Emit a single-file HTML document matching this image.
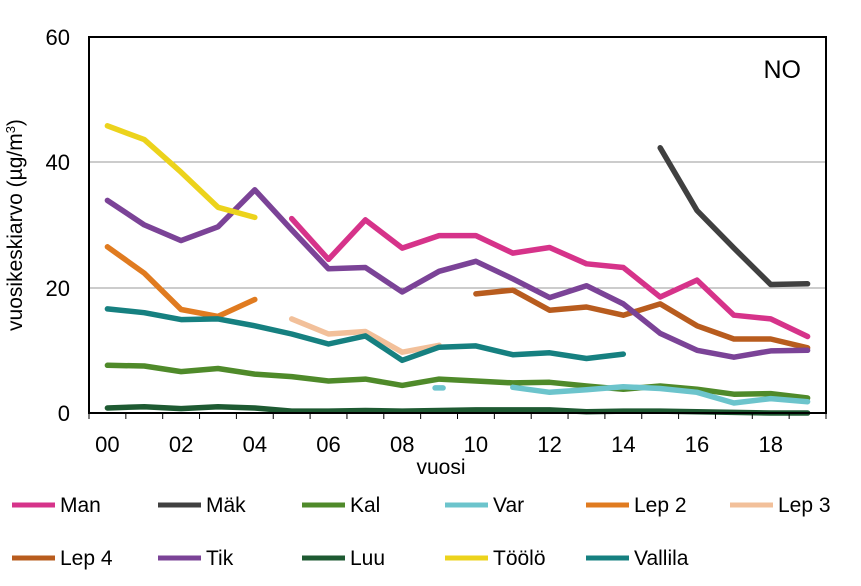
<!DOCTYPE html><html><head><style>body{margin:0;background:#fff}svg{font-family:"Liberation Sans",sans-serif}</style></head><body>
<svg width="861" height="581" xmlns="http://www.w3.org/2000/svg">
<rect width="861" height="581" fill="#fff"/>
<line x1="89" y1="162" x2="826" y2="162" stroke="#999" stroke-width="1"/>
<line x1="89" y1="288" x2="826" y2="288" stroke="#999" stroke-width="1"/>
<g id="series" fill="none" stroke-width="5.5" stroke-linejoin="round" stroke-linecap="round"></g>
<rect x="89" y="37" width="737" height="376" fill="none" stroke="#000" stroke-width="2"/>
<g id="ticks" stroke="#000" stroke-width="1"></g>
<g font-size="22" text-anchor="end"><text x="70" y="45">60</text><text x="70" y="170">40</text><text x="70" y="296">20</text><text x="70" y="421">0</text></g>
<g id="xl" font-size="22" text-anchor="middle"></g>
<text x="441" y="474" font-size="21" text-anchor="middle">vuosi</text>
<text transform="translate(22,225) rotate(-90)" font-size="21" text-anchor="middle">vuosikeskiarvo (µg/m<tspan dy="-7" font-size="13">3</tspan><tspan dy="7">)</tspan></text>
<text x="801" y="78" font-size="25" text-anchor="end">NO</text>
<g id="leg" font-size="21"></g>
</svg>
<script>
const X=i=>89+36.85*(i+0.5),Y=v=>413-v*6.27;
const S=[
["#d6338a",5,[31,24.5,30.8,26.3,28.3,28.3,25.5,26.4,23.8,23.2,18.5,21.2,15.6,15,12.2]],
["#404040",15,[42.3,32.3,26.3,20.5,20.6]],
["#4f8a2a",0,[7.6,7.5,6.6,7.1,6.2,5.8,5.1,5.4,4.4,5.4,5.1,4.8,4.9,4.3,3.8,4.3,3.8,3,3.1,2.4]],
["#6cc4cc",11,[4.1,3.3,3.7,4.2,3.9,3.3,1.6,2.3,1.8]],
["#e07b20",0,[26.5,22.3,16.5,15.4,18.1]],
["#f2c09a",5,[15,12.6,13,9.7,10.8]],
["#b85c1e",10,[19,19.6,16.4,16.9,15.6,17.4,13.9,11.8,11.8,10.4]],
["#7b4397",0,[33.9,30,27.5,29.7,35.6,29.2,23,23.2,19.3,22.6,24.2,21.4,18.4,20.3,17.4,12.7,10,8.9,9.9,10]],
["#1e5a32",0,[0.8,1,0.7,1,0.8,0.3,0.3,0.4,0.3,0.4,0.5,0.5,0.5,0.2,0.3,0.3,0.2,0.1,0,0]],
["#ecd31c",0,[45.8,43.6,38.4,32.8,31.2]],
["#168080",0,[16.6,16,14.9,15,13.9,12.6,11,12.3,8.4,10.5,10.7,9.3,9.6,8.7,9.4]]];
let h="";
for(const[c,s,d]of S){h+=`<polyline stroke="${c}" points="${d.map((v,i)=>X(s+i).toFixed(1)+","+Y(v).toFixed(1)).join(" ")}"/>`;}
h+=`<line x1="${X(9)-4}" y1="${Y(4)}" x2="${X(9)+4}" y2="${Y(4)}" stroke="#6cc4cc"/>`;
document.getElementById("series").innerHTML=h;
let t="";for(let k=0;k<=20;k++){const x=89+36.85*k;t+=`<line x1="${x}" y1="413" x2="${x}" y2="419"/>`;}
document.getElementById("ticks").innerHTML=t;
let xl="";for(let i=0;i<20;i+=2)xl+=`<text x="${X(i)}" y="452">${String(i).padStart(2,"0")}</text>`;
document.getElementById("xl").innerHTML=xl;
const L=[["Man",0],["Mäk",1],["Kal",2],["Var",3],["Lep 2",4],["Lep 3",5],["Lep 4",6],["Tik",7],["Luu",8],["Töölö",9],["Vallila",10]];
const cx=[12,158,302,445,586,730];let lg="";
L.forEach(([n,si],k)=>{const r=k<6?0:1,c=k%6,x=cx[c],y=r?558:505;
lg+=`<line x1="${x}" y1="${y}" x2="${x+43}" y2="${y}" stroke="${S[si][0]}" stroke-width="5"/><text x="${x+48}" y="${y+7}">${n}</text>`;});
document.getElementById("leg").innerHTML=lg;
</script></body></html>
